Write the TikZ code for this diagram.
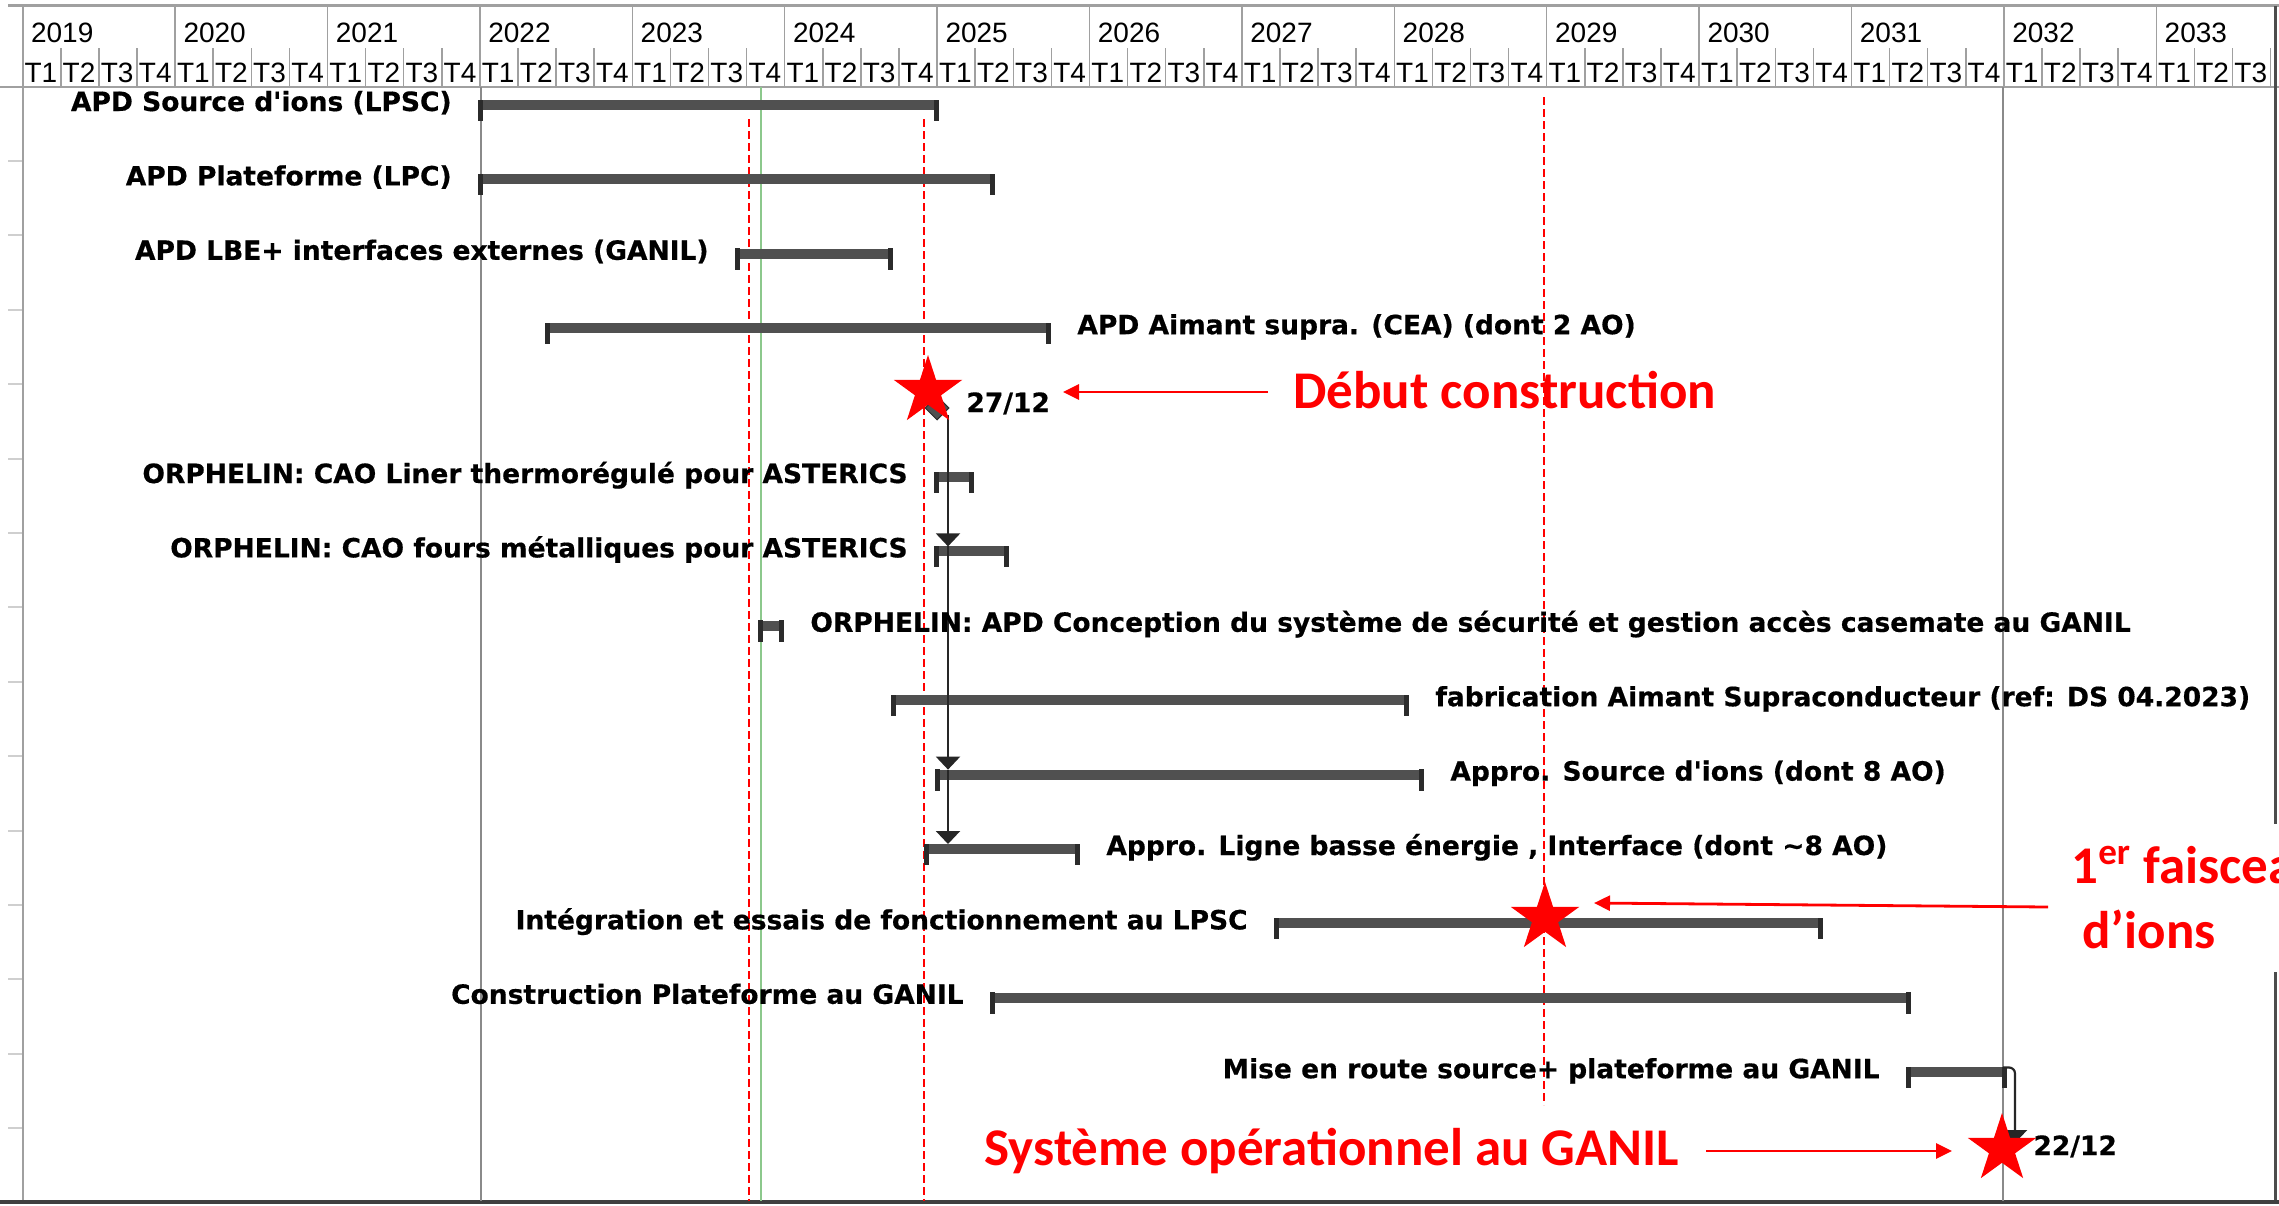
\documentclass[tikz,border=0pt]{standalone}
\usepackage{fontspec}
\usetikzlibrary{arrows.meta,shapes.geometric,calc}
\newfontfamily\hdrfont{Liberation Sans}
\newfontfamily\lblfont[Ligatures=TeXOff,BoldFeatures={FakeBold=0.5}]{DejaVu Sans}
\newfontfamily\redfont{Carlito}
\definecolor{barfill}{HTML}{505050}
\definecolor{capfill}{HTML}{2B2B2B}
\definecolor{gridgray}{HTML}{A0A0A0}
\definecolor{vgray}{HTML}{8A8A8A}
\definecolor{tgreen}{HTML}{8CC88C}
\definecolor{tickgray}{HTML}{CFCFCF}
\definecolor{pred}{HTML}{FF0000}
% bar: name, row y, x start, x end
\newcommand\gbar[4]{%
  \coordinate (#1s) at (#3,#2);
  \coordinate (#1e) at (#4,#2);
  \fill[barfill] (#3,#2-5) rectangle (#4,#2+5);
  \fill[capfill] (#3-2,#2-5.5) rectangle (#3+3,#2+16);
  \fill[capfill] (#4-3,#2-5.5) rectangle (#4+2,#2+16);
}
\begin{document}
\begin{tikzpicture}[x=0.5pt,y=-0.5pt,
  grid/.style={draw=gridgray, line width=0.75pt},
  hdr/.style={font=\hdrfont\fontsize{14}{16}\selectfont, inner sep=0pt, text=black},
  lbl/.style={font=\lblfont\bfseries\fontsize{13.25}{15}\selectfont, inner sep=0pt, text=black},
  redtxt/.style={font=\redfont\bfseries\fontsize{26.5}{30}\selectfont, text=pred, inner sep=0pt},
  reddash/.style={draw=pred, line width=1pt, dash pattern=on 4pt off 2pt},
  redarr/.style={draw=pred, line width=1.4pt, -{Triangle[length=8pt,width=7.5pt]}},
  dep/.style={draw=black!85, line width=1.1pt, -{Triangle[length=6.5pt,width=12pt]}},
  mstar/.style={star, star points=5, star point ratio=2.618, minimum size=36pt, inner sep=0pt, fill=pred, draw=none},
  mile/.style={diamond, fill=barfill, draw=capfill, line width=0.5pt, minimum size=12pt, inner sep=0pt}]
\useasboundingbox (0,0) rectangle (2279,1205);
\clip (0,0) rectangle (2279,1205);
\fill[white] (0,0) rectangle (2279,1205);

% ---- header ----
\draw[draw=gridgray, line width=1.2pt] (8,5.5) -- (2279,5.5);
\draw[draw=gridgray, line width=1pt] (0,86.5) -- (2279,86.5);
\foreach \yr [count=\i from 0] in {2019,...,2033} {
  \pgfmathsetmacro\xs{22.7+152.4*\i}
  \draw[grid] (\xs,6) -- (\xs,86);
  \node[hdr, anchor=base west] (yr\yr) at (\xs+8,42) {\yr};
  \foreach \q in {1,2,3,4} {
    \pgfmathsetmacro\qx{\xs+38.1*(\q-1)}
    \ifnum\q>1 \draw[grid] (\qx,48) -- (\qx,86); \fi
    \ifnum\numexpr\yr*10+\q\relax<20334
      \node[hdr, anchor=base west] (q\yr-\q) at (\qx+1.5,82) {T\q};
    \fi
  }
}

% ---- frame and vertical lines ----
\draw[draw=gridgray, line width=1pt] (22.7,6) -- (22.7,1201);
\draw[draw=black!70, line width=1.5pt] (2275.5,6) -- (2275.5,824);
\draw[draw=black!70, line width=1.5pt] (2275.5,972) -- (2275.5,1201);
\draw[draw=black!75, line width=1.6pt] (0,1202) -- (2279,1202);
\foreach \r in {2,...,15} {
  \pgfmathsetmacro\ty{105+(\r-1)*74.4-18.5}
  \draw[draw=tickgray, line width=1pt] (8,\ty) -- (22,\ty);
}
\draw[draw=vgray, line width=1pt] (480.5,87) -- (480.5,1201);
\draw[draw=vgray, line width=1pt] (2003,87) -- (2003,1201);
\draw[draw=tgreen, line width=0.8pt] (761,87) -- (761,1201);
\draw[reddash] (749,119) -- (749,1201);
\draw[reddash] (923.5,119) -- (923.5,1201);
\draw[reddash] (1544,97) -- (1544,1105);

% ---- bars ----
\gbar{b1}{105}{480}{937}
\gbar{b2}{179.4}{480}{993}
\gbar{b3}{253.8}{737}{891}
\gbar{b4}{328.2}{547}{1049}
\gbar{b6}{477}{936}{972}
\gbar{b7}{551.4}{936}{1007}
\gbar{b8}{625.8}{760}{782}
\gbar{b9}{700.2}{893}{1407}
\gbar{b10}{774.6}{937}{1422}
\gbar{b11}{849}{926}{1078}
\gbar{b12}{923.4}{1276}{1821}
\gbar{b13}{997.8}{992}{1909}
\gbar{b14}{1072.2}{1908}{2005}

% ---- milestones ----
\node[mile] (m5) at (937,408) {};
\node[mile] (m15) at (2004,1150) {};

% ---- dependency links ----
\coordinate (c5) at (948,415);
\coordinate (t7) at (948,546.4);
\coordinate (t10) at (948,769.6);
\coordinate (t11) at (948,844);
\draw[dep] (c5) -- (t7);
\draw[dep] (t7) -- (t10);
\draw[dep] (t10) -- (t11);
\coordinate (c14) at (2003,1067.5);
\coordinate (t15) at (2015,1143);
\draw[dep, rounded corners=3pt] (c14) -- (2015,1067.5) -- (t15);

% ---- labels ----
\node[lbl, anchor=base east] (l1) at ($(b1s)+(-28,6)$) {APD Source d'ions (LPSC)};
\node[lbl, anchor=base east] (l2) at ($(b2s)+(-28,6)$) {APD Plateforme (LPC)};
\node[lbl, anchor=base east] (l3) at ($(b3s)+(-28,6)$) {APD LBE+ interfaces externes (GANIL)};
\node[lbl, anchor=base west] (l4) at ($(b4e)+(28,6)$) {APD Aimant supra. (CEA) (dont 2 AO)};
\node[lbl, anchor=base west] (l5) at (966,412) {27/12};
\node[lbl, anchor=base east] (l6) at ($(b6s)+(-28,6)$) {ORPHELIN: CAO Liner thermorégulé pour ASTERICS};
\node[lbl, anchor=base east] (l7) at ($(b7s)+(-28,6)$) {ORPHELIN: CAO fours métalliques pour ASTERICS};
\node[lbl, anchor=base west] (l8) at ($(b8e)+(28,6)$) {ORPHELIN: APD Conception du système de sécurité et gestion accès casemate au GANIL};
\node[lbl, anchor=base west] (l9) at ($(b9e)+(28,6)$) {fabrication Aimant Supraconducteur (ref: DS 04.2023)};
\node[lbl, anchor=base west] (l10) at ($(b10e)+(28,6)$) {Appro. Source d'ions (dont 8 AO)};
\node[lbl, anchor=base west] (l11) at ($(b11e)+(28,6)$) {Appro. Ligne basse énergie , Interface (dont \textasciitilde8 AO)};
\node[lbl, anchor=base east] (l12) at ($(b12s)+(-28,6)$) {Intégration et essais de fonctionnement au LPSC};
\node[lbl, anchor=base east] (l13) at ($(b13s)+(-28,6)$) {Construction Plateforme au GANIL};
\node[lbl, anchor=base east] (l14) at ($(b14s)+(-28,6)$) {Mise en route source+ plateforme au GANIL};
\node[lbl, anchor=base west] (l15) at (2033,1155) {22/12};

% ---- red annotations ----
\node[mstar] (s1) at (928,391) {};
\node[mstar] (s2) at (1545,918) {};
\node[mstar] (s3) at (2002,1149) {};
\node[redtxt, anchor=base west] (r1) at (1293,408) {Début construction};
\node[redtxt, anchor=base west] (r2a) at (2071,883) {1\textsuperscript{er} faisceau};
\node[redtxt, anchor=base west] (r2b) at (2082,948) {d’ions};
\node[redtxt, anchor=base west] (r3) at (984,1165) {Système opérationnel au GANIL};
\coordinate (a1t) at (1268,392);
\coordinate (a1h) at (1063,392);
\coordinate (a2t) at (2048,907);
\coordinate (a2h) at (1594,903);
\coordinate (a3t) at (1706,1151);
\coordinate (a3h) at (1952,1151);
\draw[redarr] (a1t) -- (a1h);
\draw[redarr] (a2t) -- (a2h);
\draw[redarr] (a3t) -- (a3h);
\end{tikzpicture}
\end{document}
